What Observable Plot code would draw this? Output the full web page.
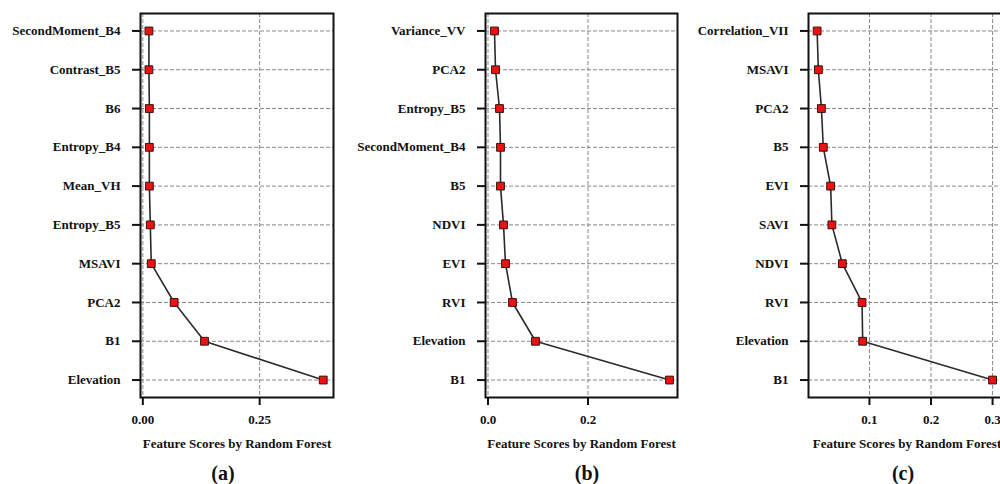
<!DOCTYPE html>
<html>
<head>
<meta charset="utf-8">
<script src="https://cdn.jsdelivr.net/npm/d3@7"></script>
<script src="https://cdn.jsdelivr.net/npm/@observablehq/plot@0.6"></script>
<style>
  html, body { margin: 0; padding: 0; background: #fff; }
  #wrap { position: relative; width: 1000px; height: 484px; overflow: hidden; background: #fff; }
  .panel { position: absolute; top: 0; }
  .panel svg { max-width: none !important; }
  .panel svg text { font-family: "Liberation Serif", "Times New Roman", serif !important; font-weight: bold; }
  .letter { position: absolute; font-family: "Liberation Serif", "Times New Roman", serif; font-weight: bold; font-size: 20px; line-height: 20px; color: #111; transform: translate(-50%, -50%); white-space: nowrap; }
</style>
</head>
<body>
<div id="wrap"></div>
<script>
// ---- Data ----
const catsA = ["SecondMoment_B4", "Contrast_B5", "B6", "Entropy_B4", "Mean_VH", "Entropy_B5", "MSAVI", "PCA2", "B1", "Elevation"];
const valsA = [0.013, 0.013, 0.014, 0.014, 0.014, 0.016, 0.018, 0.067, 0.132, 0.386];
const ticksA = [0, 0.25];

const catsB = ["Variance_VV", "PCA2", "Entropy_B5", "SecondMoment_B4", "B5", "NDVI", "EVI", "RVI", "Elevation", "B1"];
const valsB = [0.013, 0.015, 0.023, 0.025, 0.025, 0.031, 0.035, 0.049, 0.095, 0.363];
const ticksB = [0, 0.2];

const catsC = ["Correlation_VII", "MSAVI", "PCA2", "B5", "EVI", "SAVI", "NDVI", "RVI", "Elevation", "B1"];
const valsC = [0.015, 0.017, 0.022, 0.025, 0.037, 0.039, 0.056, 0.088, 0.089, 0.300];
const ticksC = [0.1, 0.2, 0.3];

const xTitle = "Feature Scores by Random Forest";
const letters = ["(a)", "(b)", "(c)"];

// ---- Drawing ----
const FONT = '"Liberation Serif", "Times New Roman", serif';
const H = 484;
const frameTop = 13, frameBottom = 397;

function panel({cats, vals, ticks, fmt, domain, left, width, marginLeft, marginRight}) {
  const data = cats.map((c, i) => ({feature: c, score: vals[i]}));
  const grid = {stroke: "#888", strokeOpacity: 1, strokeWidth: 1, strokeDasharray: "4,2"};
  const svg = Plot.plot({
    width, height: H,
    marginTop: frameTop, marginBottom: H - frameBottom,
    marginLeft, marginRight,
    style: {fontFamily: FONT, fontWeight: "bold", fontSize: "13px", color: "#111", background: "transparent", overflow: "visible", maxWidth: "none"},
    x: {domain, ticks, tickFormat: d3.format(fmt)},
    y: {type: "point", domain: cats, padding: 0.45, round: false},
    marks: [
      Plot.gridX(ticks, grid),
      Plot.gridY(cats, grid),
      Plot.frame({stroke: "#111", strokeWidth: 2}),
      Plot.axisY({tickSize: 8, tickPadding: 12, strokeWidth: 2, label: null, fontWeight: "bold", fontFamily: FONT}),
      Plot.axisX({ticks, tickFormat: d3.format(fmt), tickSize: 8, tickPadding: 9, strokeWidth: 2, label: null, fontWeight: "bold", fontFamily: FONT}),
      Plot.text([xTitle], {frameAnchor: "bottom", dy: 46, lineAnchor: "middle", fontWeight: "bold", fontSize: 13, fontFamily: FONT, fill: "#111"}),
      Plot.line(data, {x: "score", y: "feature", stroke: "#2a2a2a", strokeWidth: 1.6}),
      Plot.dot(data, {x: "score", y: "feature", symbol: "square", r: 4.4, fill: "#ee1111", stroke: "#3a1010", strokeWidth: 1})
    ]
  });
  const div = document.createElement("div");
  div.className = "panel";
  div.style.left = left + "px";
  div.style.width = width + "px";
  div.appendChild(svg);
  return div;
}

const wrap = document.getElementById("wrap");
wrap.appendChild(panel({cats: catsA, vals: valsA, ticks: ticksA, fmt: ".2f", domain: [-0.005, 0.408], left: 0, width: 340, marginLeft: 140, marginRight: 7}));
wrap.appendChild(panel({cats: catsB, vals: valsB, ticks: ticksB, fmt: ".1f", domain: [-0.005, 0.379], left: 340, width: 340, marginLeft: 145, marginRight: 3}));
wrap.appendChild(panel({cats: catsC, vals: valsC, ticks: ticksC, fmt: ".1f", domain: [0.001, 0.321], left: 680, width: 330, marginLeft: 128, marginRight: 5}));

const letterX = [223, 587, 903];
letters.forEach((t, i) => {
  const d = document.createElement("div");
  d.className = "letter";
  d.style.left = letterX[i] + "px";
  d.style.top = "473px";
  d.textContent = t;
  wrap.appendChild(d);
});
</script>
</body>
</html>
